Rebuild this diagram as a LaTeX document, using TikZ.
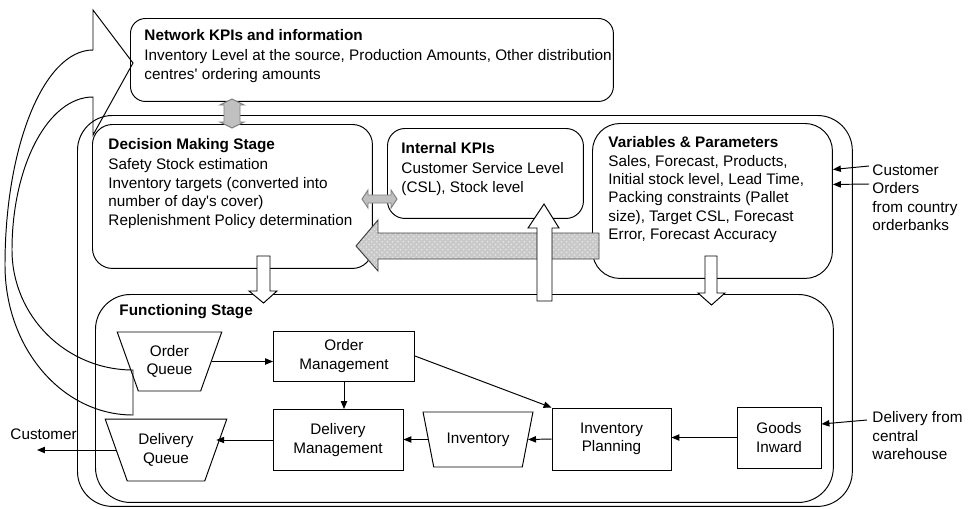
\documentclass[tikz,border=0pt]{standalone}
\usepackage{fontspec}
\setmainfont{Liberation Sans}
\usetikzlibrary{arrows.meta, positioning, shapes.geometric, patterns}
\definecolor{arrgray}{HTML}{C0C0C0}
\definecolor{arrdraw}{HTML}{7F7F7F}
\definecolor{dotfill}{HTML}{C9C9C9}
\definecolor{dotgray}{HTML}{E6E6E6}

\begin{document}
\begin{tikzpicture}[
  x=0.02cm, y=-0.02cm, line width=0.55pt,
  every node/.style={font=\fontsize{8.7}{10.5}\selectfont},
  stage/.style={rectangle, draw, rounded corners=#1, anchor=north west},
  txt/.style={anchor=north west, align=left, inner sep=0pt},
  proc/.style={rectangle, draw, align=center},
  queue/.style={trapezium, draw, trapezium angle=65, shape border rotate=180, trapezium stretches=true, align=center, inner sep=1pt},
  arr/.style={-{Triangle[length=4.5pt, width=3.6pt]}},
  grayarr/.style={draw=arrdraw, fill=arrgray},
  dotarr/.style={draw=black!75, preaction={fill=dotfill}, pattern=crosshatch dots, pattern color=dotgray},
  whitearr/.style={draw, fill=white},
]
\useasboundingbox (0,0) rectangle (970,508);

% Stage boxes
\node[stage=0.7cm, minimum width=15.5cm, minimum height=7.82cm] (outer) at (77,115) {};
\node[stage=0.3cm, minimum width=9.66cm, minimum height=1.66cm] (net) at (130,18) {};
\node[stage=0.4cm, minimum width=5.6cm, minimum height=2.88cm] (dec) at (92,124) {};
\node[stage=0.35cm, minimum width=3.92cm, minimum height=1.8cm] (ikpi) at (387,128) {};
\node[stage=0.55cm, minimum width=4.8cm, minimum height=3.1cm] (vars) at (592,123) {};
\node[stage=0.7cm, minimum width=14.76cm, minimum height=4.16cm] (func) at (95,294) {};

% Stage texts
\node[txt] (nettxt) at (144,29) {\textbf{Network KPIs and information}\\[1pt] Inventory Level at the source, Production Amounts, Other distribution\\ centres\textquotesingle\ ordering amounts};
\node[txt] (dectxt) at (108,138) {\textbf{Decision Making Stage}\\[1pt] Safety Stock estimation\\ Inventory targets (converted into\\ number of day\textquotesingle s cover)\\ Replenishment Policy determination};
\node[txt] (ikpitxt) at (401,142) {\textbf{Internal KPIs}\\[1pt] Customer Service Level\\ (CSL), Stock level};
\node[txt] (varstxt) at (608,136) {\textbf{Variables \& Parameters}\\ Sales, Forecast, Products,\\ Initial stock level, Lead Time,\\ Packing constraints (Pallet\\ size), Target CSL, Forecast\\ Error, Forecast Accuracy};
\node[txt] (functxt) at (119,304) {\textbf{Functioning Stage}};

% Block arrows between stages
\draw[grayarr] (232,99) -- (244,105) -- (240,105) -- (240,122) -- (244,122) -- (232,128) -- (220,122) -- (224,122) -- (224,105) -- (220,105) -- cycle;
\draw[grayarr] (362,199) -- (368,190) -- (368,195) -- (391,195) -- (391,190) -- (397,199) -- (391,208) -- (391,203) -- (368,203) -- (368,208) -- cycle;
\draw[dotarr] (356,246) -- (378,220) -- (378,233) -- (599,233) -- (599,259) -- (378,259) -- (378,271) -- cycle;
\draw[whitearr] (544,204) -- (559,228) -- (552,228) -- (552,301) -- (537,301) -- (537,228) -- (528,228) -- cycle;
\draw[whitearr] (257,256) -- (270,256) -- (270,291) -- (277,291) -- (263.5,303) -- (249,291) -- (257,291) -- cycle;
\draw[whitearr] (705,256) -- (717,256) -- (717,293) -- (725,293) -- (711.5,305) -- (698,293) -- (705,293) -- cycle;

% Feedback loop
\draw (93,10) -- (133,63) -- (93,135) -- (93,97) .. controls (48,97) and (12,166) .. (12,250) .. controls (12,316) and (66,370) .. (133,370) -- (133,415) .. controls (62,415) and (5,348) .. (5,265) .. controls (5,146) and (44,50) .. (93,50) -- cycle;

% Functioning stage
\node[queue, minimum width=2.1cm, minimum height=1.18cm] (oq) at (169.5,361.5) {Order\\Queue};
\node[proc, minimum width=2.82cm, minimum height=1.0cm] (om) at (344,356) {Order\\Management};
\node[proc, minimum width=2.6cm, minimum height=1.22cm] (dm) at (338,440) {Delivery\\Management};
\node[queue, minimum width=2.44cm, minimum height=1.24cm] (dq) at (166,450) {Delivery\\Queue};
\node[queue, minimum width=2.2cm, minimum height=1.1cm] (inv) at (478,439.5) {Inventory};
\node[proc, minimum width=2.38cm, minimum height=1.24cm] (ip) at (611.5,439) {Inventory\\Planning};
\node[proc, minimum width=1.68cm, minimum height=1.22cm] (gi) at (779,437.5) {Goods\\Inward};

\draw[arr] (oq.east) -- (oq.east -| om.west);
\draw[arr] (om.south) -- (om.south |- dm.north);
\draw[arr] (om.east) -- (ip.north west);
\draw[arr] (gi.west) -- (gi.west -| ip.east);
\draw[arr] (ip.west) -- (inv.east);
\draw[arr] (inv.west) -- (inv.west -| dm.east);
\draw[arr] (dm.west) -- (dm.west -| dq.east);

% Outside labels
\node[txt] (cust) at (10,428) {Customer};
\node[txt] (custord) at (872,164) {Customer\\ Orders\\ from country\\ orderbanks};
\node[txt] (delivfrom) at (872,411) {Delivery from\\ central\\ warehouse};
\coordinate (custend) at (37,443);
\coordinate (ord1) at (869,166);
\coordinate (ord2) at (869,184);
\coordinate (whstart) at (867,420);

\draw[arr] (dq.west) -- (dq.west -| custend);
\draw[arr] (ord1) -- ([yshift=0.63cm]vars.east);
\draw[arr] (ord2) -- ([yshift=0.33cm]vars.east);
\draw[arr] (whstart) -- ([yshift=0.27cm]gi.east);

\end{tikzpicture}
\end{document}
